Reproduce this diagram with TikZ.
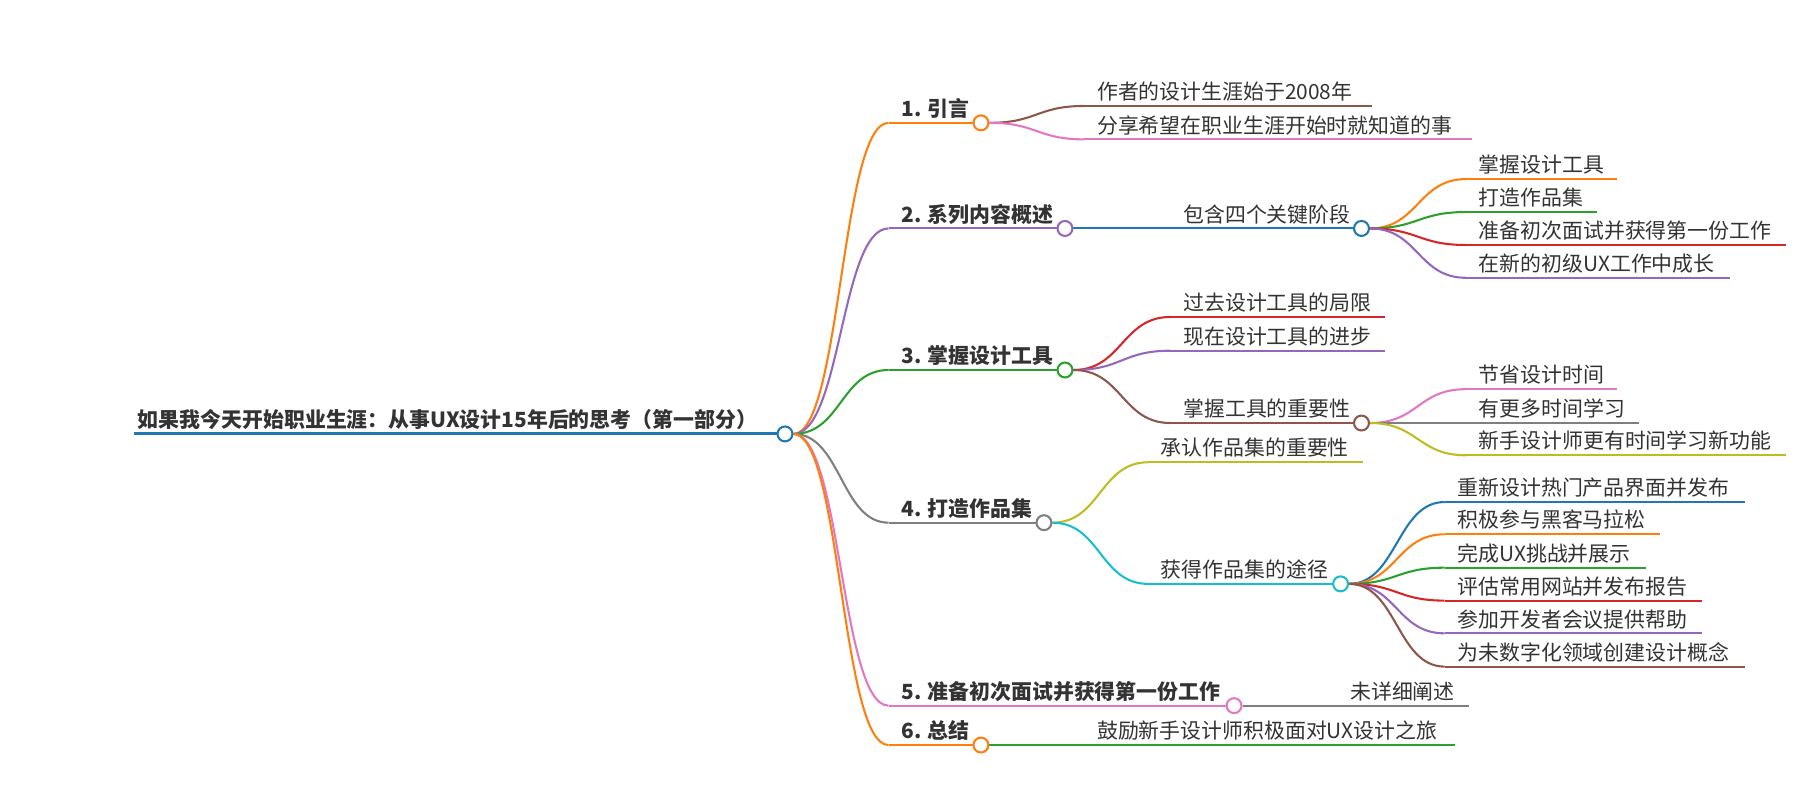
\documentclass[tikz,border=0pt]{standalone}
\usepackage{fontspec}
\setmainfont{Noto Sans CJK SC}
\usetikzlibrary{calc}
\pgfdeclarelayer{bg}
\pgfsetlayers{bg,main}
\definecolor{cBlue}{HTML}{1F77B4}
\definecolor{cOrange}{HTML}{FF7F0E}
\definecolor{cGreen}{HTML}{2CA02C}
\definecolor{cRed}{HTML}{D62728}
\definecolor{cPurple}{HTML}{9467BD}
\definecolor{cBrown}{HTML}{8C564B}
\definecolor{cPink}{HTML}{E377C2}
\definecolor{cGray}{HTML}{7F7F7F}
\definecolor{cOlive}{HTML}{BCBD22}
\definecolor{cCyan}{HTML}{17BECF}
\definecolor{txt}{HTML}{333333}
\tikzset{
  lbl/.style={anchor=base west, inner sep=0pt, text=txt, font=\fontsize{18.2}{20}\selectfont},
  lblb/.style={anchor=base west, inner sep=0pt, text=txt, font=\fontsize{18.2}{20}\selectfont\bfseries},
  dot/.style={circle, draw=#1, fill=white, line width=1.8pt, minimum size=13pt, inner sep=0pt},
  edge/.style={draw=#1, line width=1.8pt},
}
% #1 name, #2 start x, #3 y, #4 end x, #5 colour, #6 label style, #7 text
\newcommand\mmtopic[7]{%
  \coordinate (#1-s) at (#2,#3);
  \coordinate (#1-e) at (#4,#3);
  \node[#6] (#1) at ({#2+11},{#3-5.5}) {#7};
  \begin{pgfonlayer}{bg}\draw[edge=#5] (#1-s) -- (#1-e);\end{pgfonlayer}%
}
% #1 name of topic, #2 colour
\newcommand\mmdot[2]{\node[dot=#2] (#1-c) at (#1-e) {};}
% #1 parent topic, #2 child topic, #3 colour
\newcommand\mmlink[3]{%
  \begin{pgfonlayer}{bg}
  \draw[edge=#3] let \p1=(#1-c.east), \p2=(#2-s) in
    (\p1) .. controls ({0.5*\x1+0.5*\x2},\y1) and ({0.5*\x1+0.5*\x2},\y2) .. (\p2);
  \end{pgfonlayer}%
}
\begin{document}
\begin{tikzpicture}[x=1pt,y=-1pt]
\begin{pgfonlayer}{bg}
\fill[white] (0,0) rectangle (1568,697);
\end{pgfonlayer}
\useasboundingbox (0,0) rectangle (1568,697);

% root
\coordinate (root-s) at (117,378);
\coordinate (root-e) at (683.8,378);
\node[lblb] (root) at (120,372.5) {如果我今天开始职业生涯：从事UX设计15年后的思考（第一部分）};
\begin{pgfonlayer}{bg}\draw[draw=cBlue, line width=2.6pt] (root-s) -- (root-e);\end{pgfonlayer}
\mmdot{root}{cBlue}

% level 1
\mmtopic{b1}{774}{107}{854.5}{cOrange}{lblb}{1. 引言}
\mmtopic{b2}{774}{199}{927.7}{cPurple}{lblb}{2. 系列内容概述}
\mmtopic{b3}{774}{322.3}{927.7}{cGreen}{lblb}{3. 掌握设计工具}
\mmtopic{b4}{774}{455.3}{909.4}{cGray}{lblb}{4. 打造作品集}
\mmtopic{b5}{774}{614.7}{1075}{cPink}{lblb}{5. 准备初次面试并获得第一份工作}
\mmtopic{b6}{774}{649}{854.5}{cOrange}{lblb}{6. 总结}
\mmdot{b1}{cOrange}
\mmdot{b2}{cPurple}
\mmdot{b3}{cGreen}
\mmdot{b4}{cGray}
\mmdot{b5}{cPink}
\mmdot{b6}{cOrange}
\mmlink{root}{b1}{cOrange}
\mmlink{root}{b2}{cPurple}
\mmlink{root}{b3}{cGreen}
\mmlink{root}{b4}{cGray}
\mmlink{root}{b5}{cPink}
\mmlink{root}{b6}{cOrange}

% level 2
\mmtopic{b1a}{944.5}{92.3}{1194.8}{cBrown}{lbl}{作者的设计生涯始于2008年}
\mmtopic{b1b}{944.5}{121.4}{1282}{cPink}{lbl}{分享希望在职业生涯开始时就知道的事}
\mmtopic{b2a}{1019.6}{199}{1186}{cBlue}{lbl}{包含四个关键阶段}
\mmtopic{b3a}{1019.6}{276.1}{1206.5}{cRed}{lbl}{过去设计工具的局限}
\mmtopic{b3b}{1019.6}{305.5}{1206.5}{cPurple}{lbl}{现在设计工具的进步}
\mmtopic{b3c}{1019.6}{368.5}{1186}{cBrown}{lbl}{掌握工具的重要性}
\mmtopic{b4a}{1000}{402.7}{1187.5}{cOlive}{lbl}{承认作品集的重要性}
\mmtopic{b4b}{1000}{508.6}{1167.8}{cCyan}{lbl}{获得作品集的途径}
\mmtopic{b5a}{1165}{614.7}{1280}{cGray}{lbl}{未详细阐述}
\mmtopic{b6a}{944.5}{649}{1267.5}{cGreen}{lbl}{鼓励新手设计师积极面对UX设计之旅}
\mmdot{b2a}{cBlue}
\mmdot{b3c}{cBrown}
\mmdot{b4b}{cCyan}
\mmlink{b1}{b1a}{cBrown}
\mmlink{b1}{b1b}{cPink}
\mmlink{b2}{b2a}{cBlue}
\mmlink{b3}{b3a}{cRed}
\mmlink{b3}{b3b}{cPurple}
\mmlink{b3}{b3c}{cBrown}
\mmlink{b4}{b4a}{cOlive}
\mmlink{b4}{b4b}{cCyan}
\mmlink{b5}{b5a}{cGray}
\mmlink{b6}{b6a}{cGreen}

% level 3
\mmtopic{b2a1}{1277}{156}{1409}{cOrange}{lbl}{掌握设计工具}
\mmtopic{b2a2}{1277}{184.7}{1391}{cGreen}{lbl}{打造作品集}
\mmtopic{b2a3}{1277}{213.4}{1556}{cRed}{lbl}{准备初次面试并获得第一份工作}
\mmtopic{b2a4}{1277}{242}{1507}{cPurple}{lbl}{在新的初级UX工作中成长}
\mmlink{b2a}{b2a1}{cOrange}
\mmlink{b2a}{b2a2}{cGreen}
\mmlink{b2a}{b2a3}{cRed}
\mmlink{b2a}{b2a4}{cPurple}

\mmtopic{b3c1}{1277}{339}{1409}{cPink}{lbl}{节省设计时间}
\mmtopic{b3c2}{1277}{368.5}{1428}{cGray}{lbl}{有更多时间学习}
\mmtopic{b3c3}{1277}{396.6}{1556}{cOlive}{lbl}{新手设计师更有时间学习新功能}
\mmlink{b3c}{b3c1}{cPink}
\mmlink{b3c}{b3c2}{cGray}
\mmlink{b3c}{b3c3}{cOlive}

\mmtopic{b4b1}{1258.5}{437.3}{1520}{cBlue}{lbl}{重新设计热门产品界面并发布}
\mmtopic{b4b2}{1258.5}{465.4}{1446}{cOrange}{lbl}{积极参与黑客马拉松}
\mmtopic{b4b3}{1258.5}{494.5}{1434}{cGreen}{lbl}{完成UX挑战并展示}
\mmtopic{b4b4}{1258.5}{523.2}{1483}{cRed}{lbl}{评估常用网站并发布报告}
\mmtopic{b4b5}{1258.5}{551.7}{1483}{cPurple}{lbl}{参加开发者会议提供帮助}
\mmtopic{b4b6}{1258.5}{580.7}{1520}{cBrown}{lbl}{为未数字化领域创建设计概念}
\mmlink{b4b}{b4b1}{cBlue}
\mmlink{b4b}{b4b2}{cOrange}
\mmlink{b4b}{b4b3}{cGreen}
\mmlink{b4b}{b4b4}{cRed}
\mmlink{b4b}{b4b5}{cPurple}
\mmlink{b4b}{b4b6}{cBrown}
\end{tikzpicture}
\end{document}
